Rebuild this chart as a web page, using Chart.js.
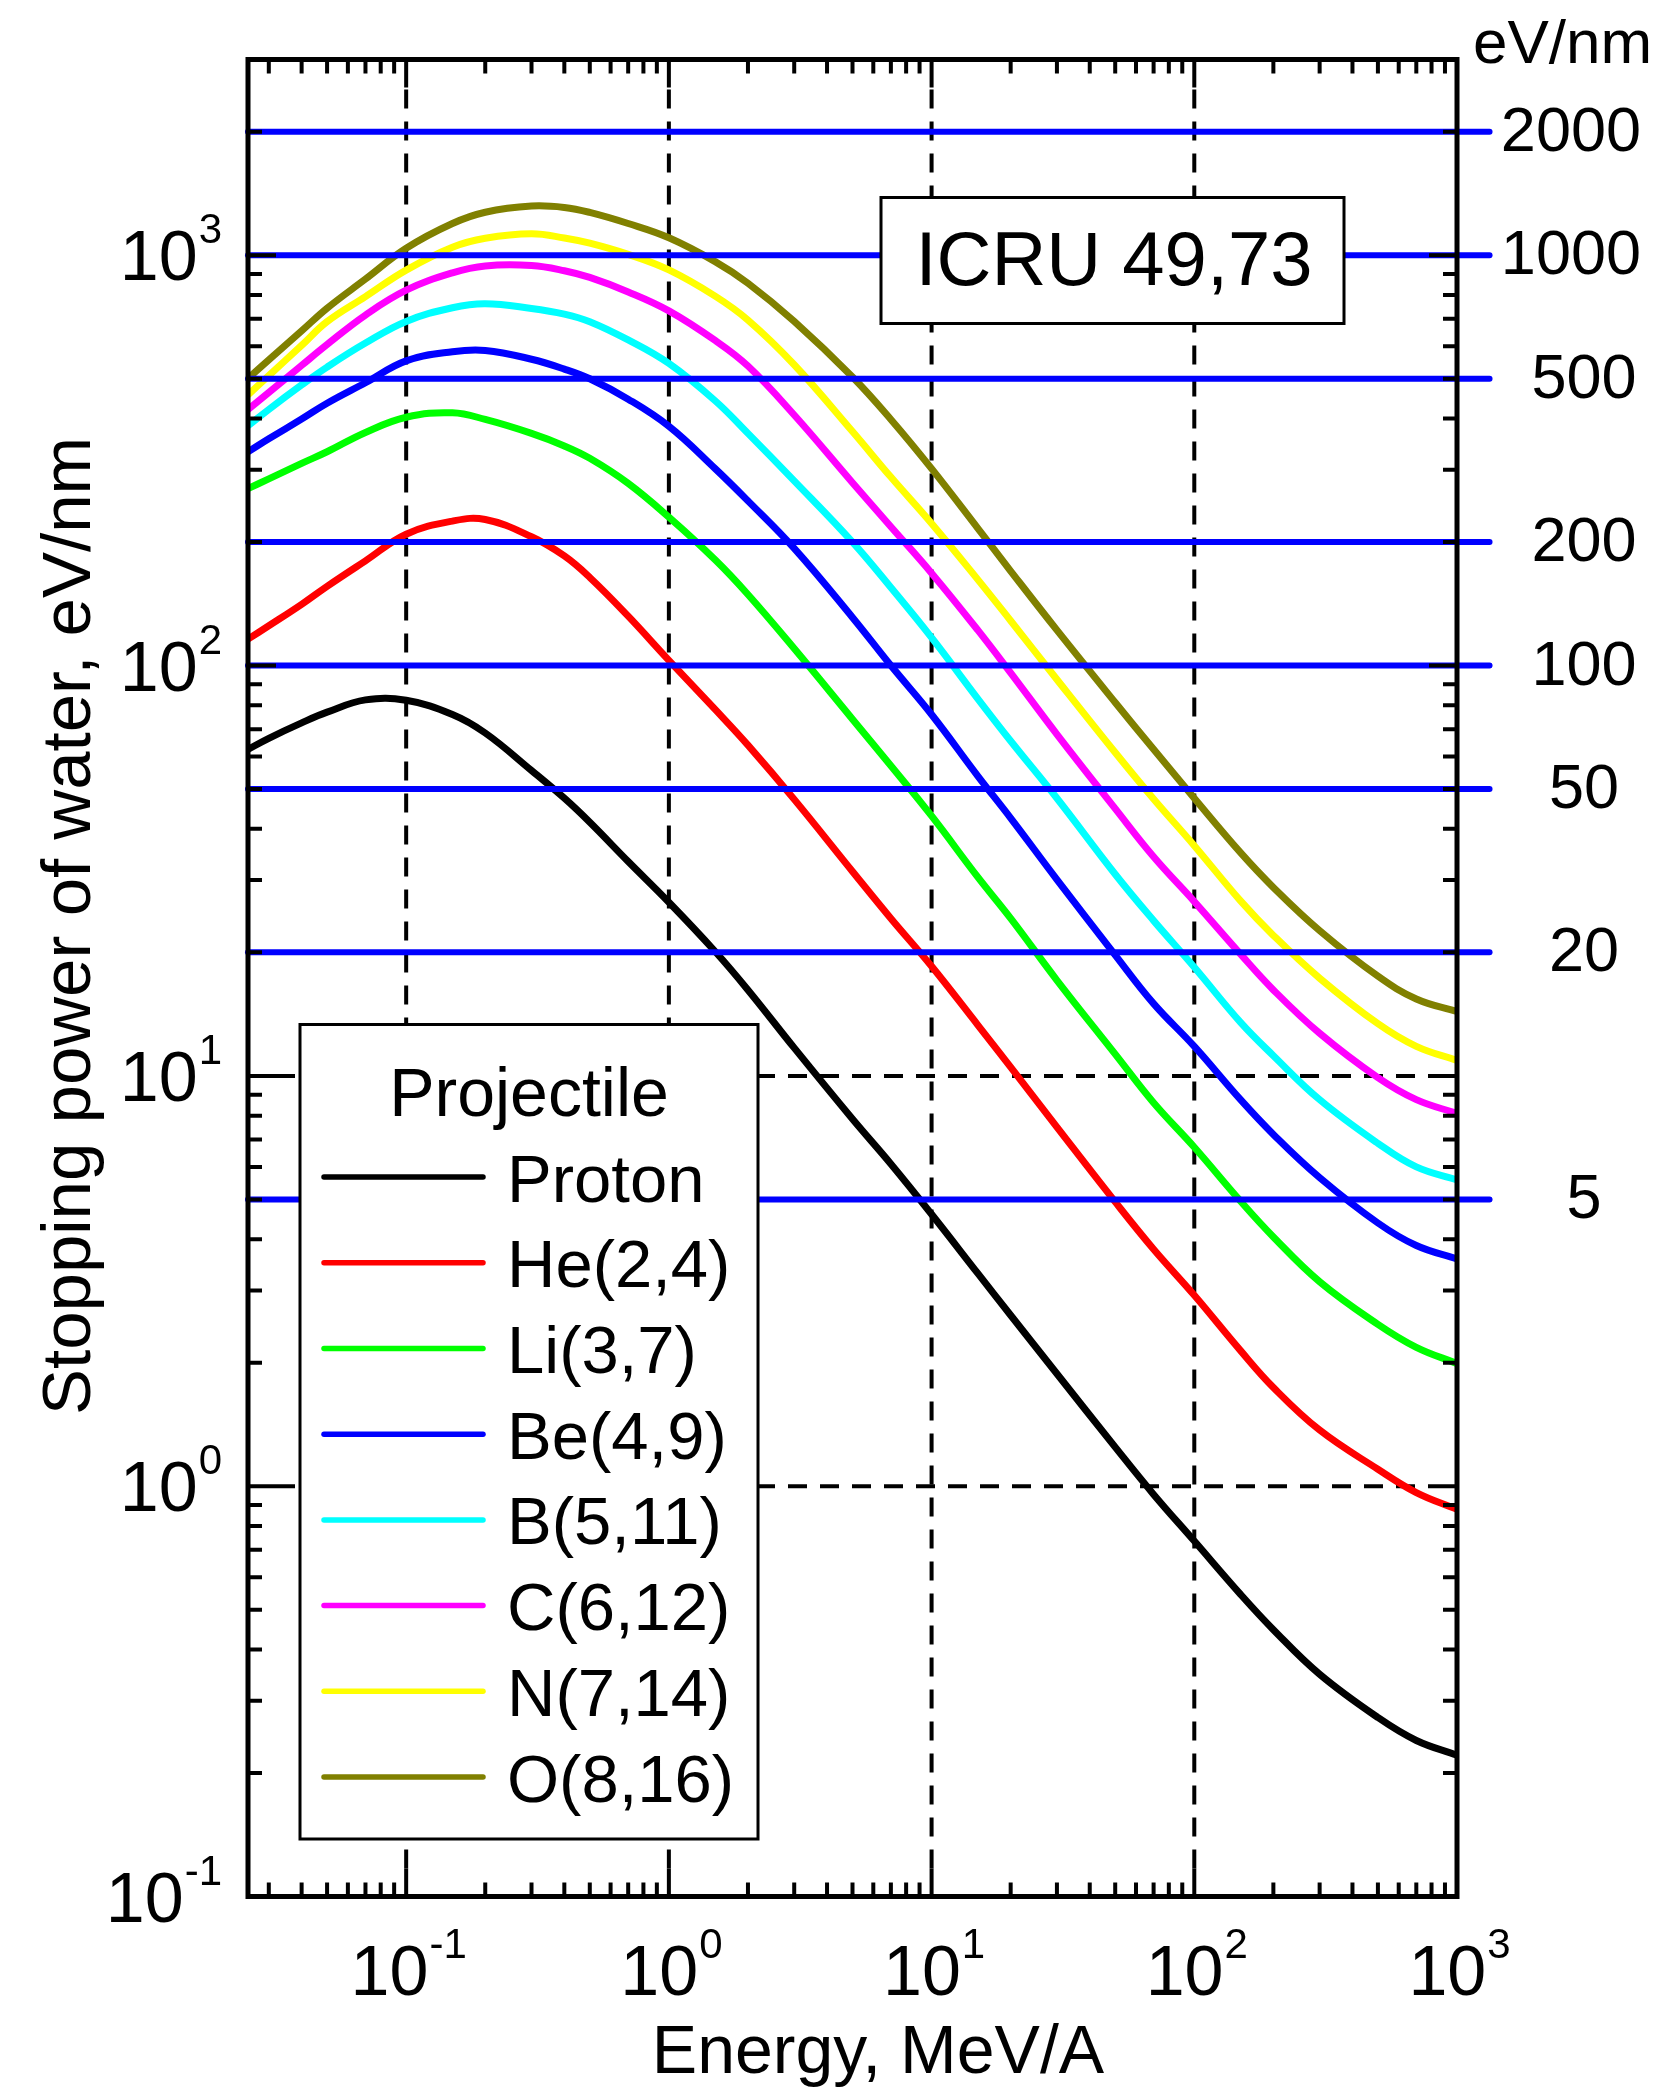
<!DOCTYPE html>
<html>
<head>
<meta charset="utf-8">
<title>Stopping power of water</title>
<script src="https://cdn.jsdelivr.net/npm/chart.js@4.4.1/dist/chart.umd.min.js"></script>
<style>
  body { margin: 0; background: #fff; }
  canvas { display: block; }
</style>
</head>
<body>
<canvas id="stoppingChart" width="1654" height="2093"></canvas>
<script>
// Energy per nucleon, MeV/A
const energies = [0.025, 0.03, 0.04, 0.05, 0.07, 0.1, 0.15, 0.2, 0.3, 0.4, 0.5, 0.7, 1, 1.5, 2, 3, 5, 7, 10, 15, 20, 30, 50, 70, 100, 150, 200, 300, 500, 700, 1000];

// Stopping power, eV/nm
const proton = [62.5, 66.5, 72.5, 77, 82.5, 82.3, 76, 68.5, 55.5, 47.5, 41.5, 33.3, 26.5, 20.1, 16.2, 11.7, 7.85, 6.1, 4.6, 3.3, 2.61, 1.88, 1.245, 0.955, 0.735, 0.545, 0.447, 0.348, 0.273, 0.24, 0.221];
const helium = [116, 125, 141, 156, 180, 209, 225, 227, 206, 185, 164, 132, 103, 78.2, 64, 47.2, 31.5, 24.2, 18.5, 13.3, 10.5, 7.5, 4.93, 3.78, 2.92, 2.14, 1.74, 1.37, 1.1, 0.965, 0.878];
const lithium = [270, 285, 311, 332, 370, 403, 413, 398, 368, 343, 320, 278, 230, 181, 149, 110, 74, 57, 43, 30.5, 24.2, 17.1, 11.3, 8.6, 6.7, 4.95, 4.05, 3.15, 2.48, 2.18, 1.99];
const beryllium = [332, 357, 399, 436, 489, 553, 582, 586, 558, 528, 500, 446, 383, 302, 252, 193, 131, 100, 76, 53.8, 42.5, 30.1, 19.7, 15, 11.8, 8.75, 7.2, 5.65, 4.38, 3.86, 3.58];
const boron = [384, 421, 483, 534, 611, 690, 745, 762, 742, 719, 689, 622, 545, 442, 368, 282, 200, 155, 117, 83, 65.5, 47.5, 31, 23.9, 18.4, 13.5, 11.2, 8.75, 6.85, 6.0, 5.58];
const carbon = [421, 463, 539, 606, 715, 822, 906, 942, 944, 917, 883, 814, 732, 620, 537, 408, 279, 218, 168, 122, 96, 68, 44.8, 34.2, 26.6, 19.8, 16.2, 12.7, 9.9, 8.75, 8.1];
const nitrogen = [457, 509, 603, 689, 793, 920, 1046, 1100, 1128, 1102, 1070, 1005, 921, 795, 695, 541, 372, 288, 222, 162, 128.6, 92.5, 61.4, 47.3, 36.4, 26.7, 22, 17.3, 13.4, 11.8, 10.9];
const oxygen = [501, 556, 654, 743, 875, 1040, 1195, 1273, 1318, 1308, 1272, 1195, 1103, 965, 855, 690, 505, 398, 302, 216, 170, 122, 81.3, 62.5, 47.5, 35, 28.8, 22.6, 17.5, 15.4, 14.35];

const seriesNames = ['Proton', 'He(2,4)', 'Li(3,7)', 'Be(4,9)', 'B(5,11)', 'C(6,12)', 'N(7,14)', 'O(8,16)'];
const seriesValues = [proton, helium, lithium, beryllium, boron, carbon, nitrogen, oxygen];
const seriesColors = ['#000000', '#ff0000', '#00ff00', '#0000ff', '#00ffff', '#ff00ff', '#ffff00', '#808000'];

// reference levels marked on the right, eV/nm
const refLevels = [2000, 1000, 500, 200, 100, 50, 20, 5];

// tick labels
const xTickValues = [0.1, 1, 10, 100, 1000];
const xTickExps = ['-1', '0', '1', '2', '3'];
const yTickValues = [0.1, 1, 10, 100, 1000];
const yTickExps = ['-1', '0', '1', '2', '3'];

const FONT = "'Liberation Sans', Arial, Helvetica, sans-serif";
const MAJOR = 28;
const MINOR = 14;
const REF_END = 1330;

const datasets = [];
refLevels.forEach(v => {
    datasets.push({
        label: 'ref ' + v,
        data: [{ x: 0.025, y: v }, { x: REF_END, y: v }],
        borderColor: '#0000ff',
        borderWidth: 6,
        borderCapStyle: 'round',
        pointRadius: 0,
        clip: false,
        order: 1
    });
});
seriesValues.forEach((vals, i) => {
    datasets.push({
        label: seriesNames[i],
        isCurve: true,
        data: energies.map((e, j) => ({ x: e, y: vals[j] })),
        borderColor: seriesColors[i],
        borderWidth: 7,
        borderJoinStyle: 'round',
        pointRadius: 0,
        tension: 0.4,
        fill: false,
        order: 2
    });
});

function drawPower(ctx, exp, x, y, align) {
    ctx.font = `70px ${FONT}`;
    const wb = ctx.measureText('10').width;
    ctx.font = `42px ${FONT}`;
    const we = ctx.measureText(exp).width;
    const total = wb + we;
    const left = align === 'center' ? x - total / 2 : x - total;
    ctx.textAlign = 'left';
    ctx.textBaseline = 'alphabetic';
    ctx.font = `70px ${FONT}`;
    ctx.fillText('10', left, y);
    ctx.font = `42px ${FONT}`;
    ctx.fillText(exp, left + wb + 1, y - 37);
}

const framePlugin = {
    id: 'frame',
    beforeDraw(chart) {
        const ctx = chart.ctx;
        ctx.save();
        ctx.fillStyle = '#fff';
        ctx.fillRect(0, 0, chart.width, chart.height);
        ctx.restore();
    },
    beforeDatasetsDraw(chart) {
        // dashed decade grid
        const ctx = chart.ctx;
        const { left, right, top, bottom } = chart.chartArea;
        const xs = chart.scales.x, ys = chart.scales.y;
        ctx.save();
        ctx.strokeStyle = '#000';
        ctx.lineWidth = 4;
        ctx.setLineDash([19, 13]);
        xTickValues.forEach(v => {
            const px = xs.getPixelForValue(v);
            if (px <= left + 1 || px >= right - 1) return;
            ctx.beginPath();
            ctx.moveTo(px, bottom - MAJOR);
            ctx.lineTo(px, top + MAJOR);
            ctx.stroke();
        });
        yTickValues.forEach(v => {
            const py = ys.getPixelForValue(v);
            if (py <= top + 1 || py >= bottom - 1) return;
            ctx.beginPath();
            ctx.moveTo(left + MAJOR, py);
            ctx.lineTo(right - MAJOR, py);
            ctx.stroke();
        });
        ctx.restore();
    },
    afterDatasetsDraw(chart) {
        const ctx = chart.ctx;
        const { left, right, top, bottom } = chart.chartArea;
        const xs = chart.scales.x, ys = chart.scales.y;
        ctx.save();
        ctx.setLineDash([]);

        // ICRU box
        ctx.fillStyle = '#fff';
        ctx.fillRect(881, 197.5, 463, 126);
        ctx.strokeStyle = '#000';
        ctx.lineWidth = 3;
        ctx.strokeRect(881, 197.5, 463, 126);
        ctx.fillStyle = '#000';
        ctx.font = `76px ${FONT}`;
        ctx.textAlign = 'center';
        ctx.textBaseline = 'alphabetic';
        ctx.fillText('ICRU 49,73', 1114, 285);

        // legend box
        ctx.fillStyle = '#fff';
        ctx.fillRect(300, 1024.5, 458, 814.5);
        ctx.strokeRect(300, 1024.5, 458, 814.5);
        ctx.fillStyle = '#000';
        ctx.font = `68px ${FONT}`;
        ctx.fillText('Projectile', 529, 1116);
        const curves = chart.data.datasets.filter(ds => ds.isCurve);
        curves.forEach((ds, i) => {
            const base = 1201.6 + i * 85.7;
            ctx.strokeStyle = ds.borderColor;
            ctx.lineWidth = 5.5;
            ctx.lineCap = 'round';
            ctx.beginPath();
            ctx.moveTo(324, base - 24.5);
            ctx.lineTo(483, base - 24.5);
            ctx.stroke();
            ctx.fillStyle = '#000';
            ctx.font = `67px ${FONT}`;
            ctx.textAlign = 'left';
            ctx.fillText(ds.label, 507, base);
        });
        ctx.lineCap = 'butt';

        // frame
        ctx.strokeStyle = '#000';
        ctx.lineWidth = 5;
        ctx.strokeRect(left, top, right - left, bottom - top);

        // inward ticks
        ctx.lineWidth = 4;
        for (let p = -2; p <= 3; p++) {
            const d = Math.pow(10, p);
            for (let m = 1; m < 10; m++) {
                const v = m * d;
                const len = m === 1 ? MAJOR : MINOR;
                if (v > xs.min * 1.001 && v < xs.max * 0.999) {
                    const px = xs.getPixelForValue(v);
                    ctx.beginPath();
                    ctx.moveTo(px, bottom);
                    ctx.lineTo(px, bottom - len);
                    ctx.moveTo(px, top);
                    ctx.lineTo(px, top + len);
                    ctx.stroke();
                }
                if (v > ys.min * 1.001 && v < ys.max * 0.999) {
                    const py = ys.getPixelForValue(v);
                    ctx.beginPath();
                    ctx.moveTo(left, py);
                    ctx.lineTo(left + len, py);
                    ctx.moveTo(right, py);
                    ctx.lineTo(right - len, py);
                    ctx.stroke();
                }
            }
        }

        // tick labels
        ctx.fillStyle = '#000';
        xTickValues.forEach((v, i) => {
            drawPower(ctx, xTickExps[i], xs.getPixelForValue(v) + 2, 1995, 'center');
        });
        yTickValues.forEach((v, i) => {
            drawPower(ctx, yTickExps[i], 221, ys.getPixelForValue(v) + 25, 'right');
        });

        // axis titles
        ctx.font = `68px ${FONT}`;
        ctx.textAlign = 'center';
        ctx.textBaseline = 'alphabetic';
        ctx.fillText('Energy, MeV/A', 878, 2073);
        ctx.save();
        ctx.translate(90, 926);
        ctx.rotate(-Math.PI / 2);
        ctx.font = `69px ${FONT}`;
        ctx.fillText('Stopping power of water, eV/nm', 0, 0);
        ctx.restore();

        // right-hand reference labels
        ctx.font = `62px ${FONT}`;
        ctx.textAlign = 'left';
        ctx.fillText('eV/nm', 1473, 63);
        ctx.font = `63px ${FONT}`;
        ctx.textAlign = 'center';
        refLevels.forEach(v => {
            const txt = String(v);
            const w = ctx.measureText(txt).width;
            const cx = Math.min(1584, 1641 - w / 2);
            ctx.fillText(txt, cx, ys.getPixelForValue(v) + 19);
        });
        ctx.restore();
    }
};

const ctx = document.getElementById('stoppingChart').getContext('2d');
const stoppingChart = new Chart(ctx, {
    type: 'line',
    data: { datasets: datasets },
    options: {
        responsive: false,
        animation: false,
        devicePixelRatio: 1,
        layout: { padding: { left: 248, right: 197, top: 59.5, bottom: 196.5 } },
        plugins: {
            legend: { display: false },
            tooltip: { enabled: false }
        },
        scales: {
            x: { type: 'logarithmic', min: 0.025, max: 1000, bounds: 'data', display: false },
            y: { type: 'logarithmic', min: 0.1, max: 3000, bounds: 'data', display: false }
        }
    },
    plugins: [framePlugin]
});
</script>
</body>
</html>
